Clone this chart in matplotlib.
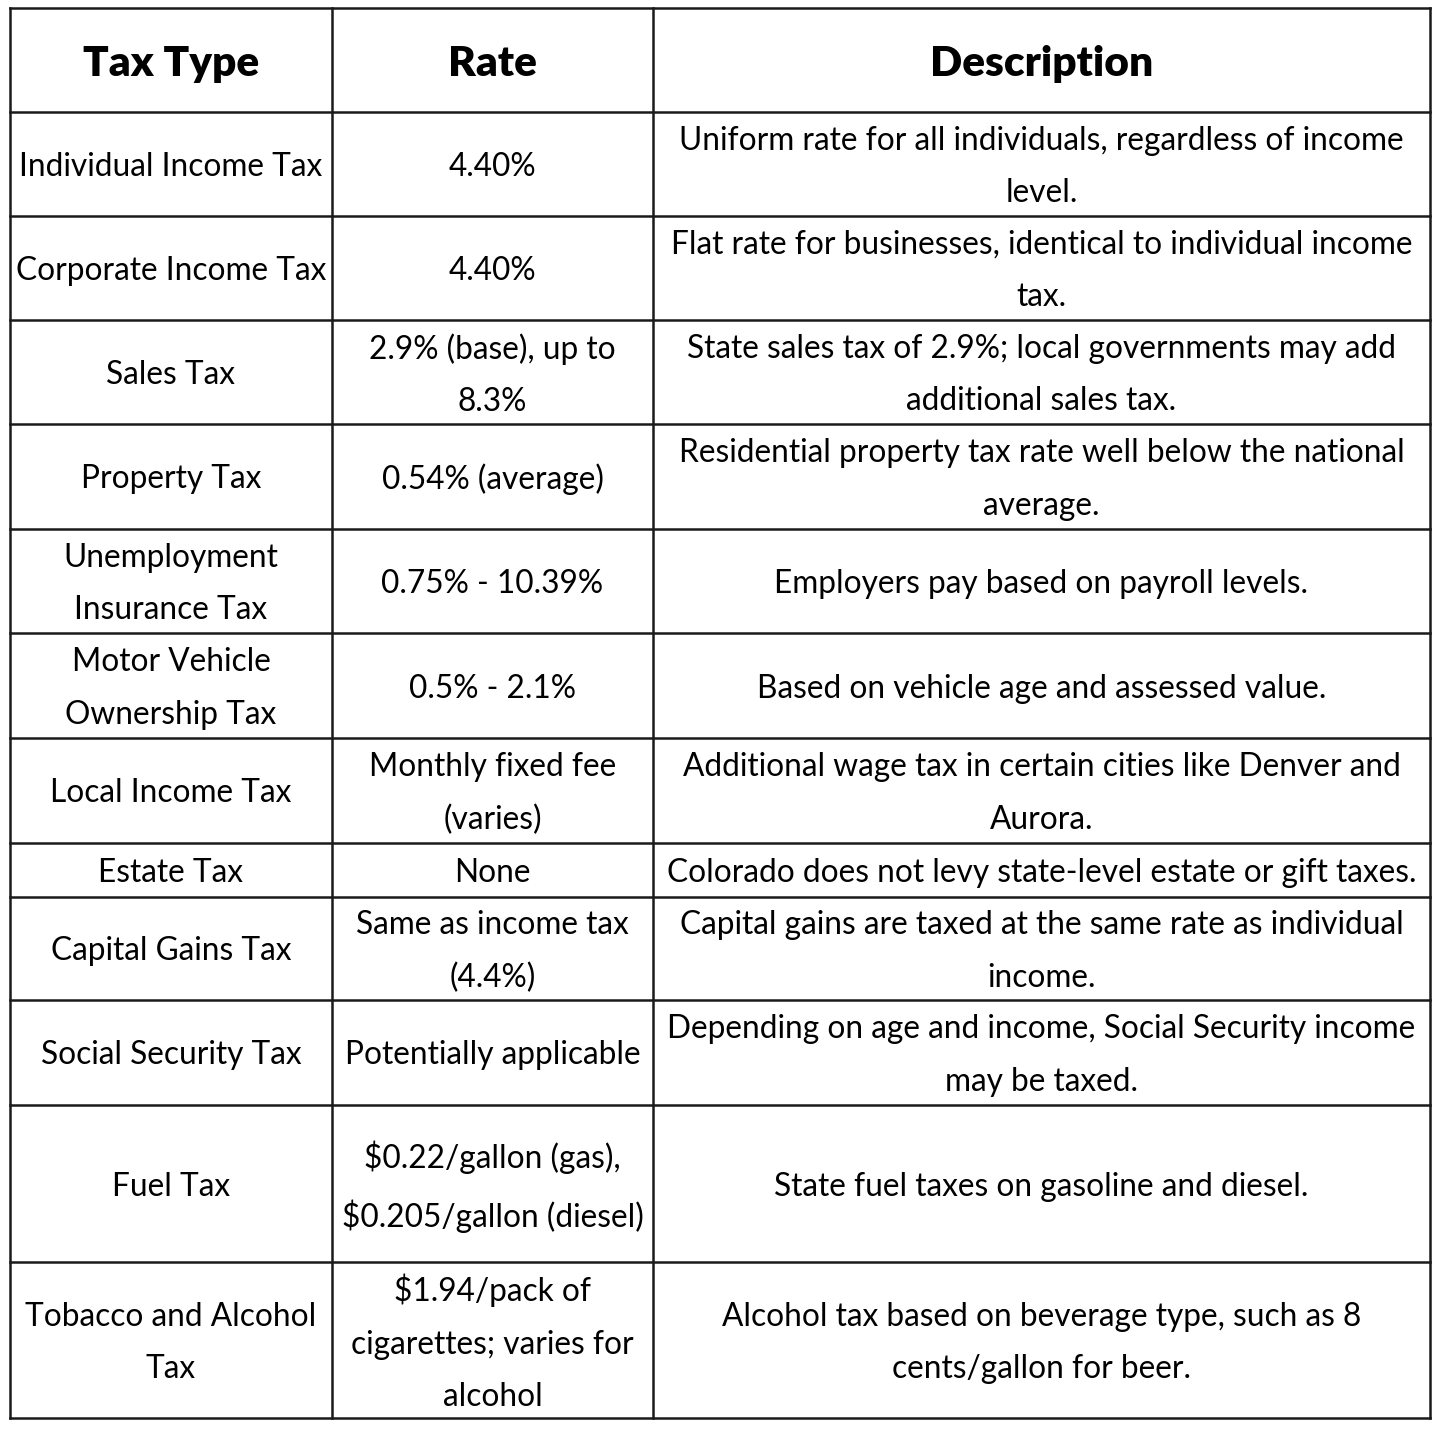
import matplotlib.pyplot as plt

plt.rcParams['font.family'] = ['Lato', 'DejaVu Sans']

headers = ["Tax Type", "Rate", "Description"]

tax_types = [
    "Individual Income Tax",
    "Corporate Income Tax",
    "Sales Tax",
    "Property Tax",
    "Unemployment\nInsurance Tax",
    "Motor Vehicle\nOwnership Tax",
    "Local Income Tax",
    "Estate Tax",
    "Capital Gains Tax",
    "Social Security Tax",
    "Fuel Tax",
    "Tobacco and Alcohol\nTax",
]

rates = [
    "4.40%",
    "4.40%",
    "2.9% (base), up to\n8.3%",
    "0.54% (average)",
    "0.75% - 10.39%",
    "0.5% - 2.1%",
    "Monthly fixed fee\n(varies)",
    "None",
    "Same as income tax\n(4.4%)",
    "Potentially applicable",
    "$0.22/gallon (gas),\n$0.205/gallon (diesel)",
    "$1.94/pack of\ncigarettes; varies for\nalcohol",
]

descriptions = [
    "Uniform rate for all individuals, regardless of income\nlevel.",
    "Flat rate for businesses, identical to individual income\ntax.",
    "State sales tax of 2.9%; local governments may add\nadditional sales tax.",
    "Residential property tax rate well below the national\naverage.",
    "Employers pay based on payroll levels.",
    "Based on vehicle age and assessed value.",
    "Additional wage tax in certain cities like Denver and\nAurora.",
    "Colorado does not levy state-level estate or gift taxes.",
    "Capital gains are taxed at the same rate as individual\nincome.",
    "Depending on age and income, Social Security income\nmay be taxed.",
    "State fuel taxes on gasoline and diesel.",
    "Alcohol tax based on beverage type, such as 8\ncents/gallon for beer.",
]

# grid layout in pixels
col_edges = [10, 332, 653, 1430]
row_edges = [8, 112, 216, 320, 424, 529, 633, 738, 843, 897, 1000, 1105, 1262, 1418]

fig = plt.figure(figsize=(14.4, 14.32), dpi=100)
ax = fig.add_axes([0, 0, 1, 1])
ax.set_xlim(0, 1440)
ax.set_ylim(1432, 0)
ax.axis('off')

line_kw = dict(color='#1a1a1a', linewidth=1.8)
for y in row_edges:
    ax.plot([col_edges[0], col_edges[-1]], [y, y], **line_kw)
for x in col_edges:
    ax.plot([x, x], [row_edges[0], row_edges[-1]], **line_kw)

def cx(i):
    return (col_edges[i] + col_edges[i + 1]) / 2

def cy(j):
    return (row_edges[j] + row_edges[j + 1]) / 2

for i, h in enumerate(headers):
    ax.text(cx(i), cy(0) + 4, h, ha='center', va='center', fontsize=30.5,
            fontweight='heavy', color='black')

for j in range(len(tax_types)):
    for i, txt in enumerate([tax_types[j], rates[j], descriptions[j]]):
        ax.text(cx(i), cy(j + 1) + 3, txt, ha='center', va='center',
                fontsize=22.8, color='black', linespacing=1.93)

fig.savefig("out.png", dpi=100, facecolor='white')
